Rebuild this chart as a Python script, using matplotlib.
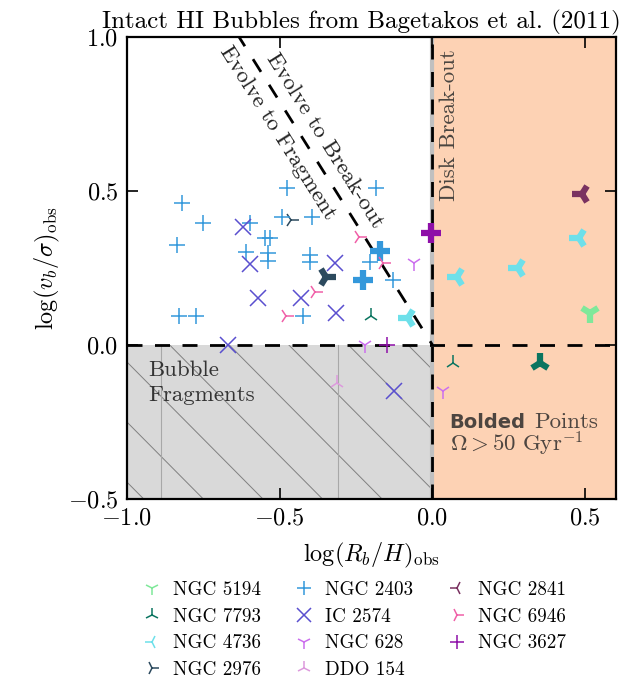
import numpy as np
import matplotlib.pyplot as plt
from matplotlib.lines import Line2D
from matplotlib.patches import Rectangle

plt.rcParams['font.family'] = 'serif'
plt.rcParams['font.serif'] = ['cmr10']
plt.rcParams['mathtext.fontset'] = 'cm'
plt.rcParams['axes.formatter.use_mathtext'] = True

# galaxies in legend order
galaxies = ['NGC 5194', 'NGC 7793', 'NGC 4736', 'NGC 2976', 'NGC 2403', 'IC 2574',
            'NGC 628', 'DDO 154', 'NGC 2841', 'NGC 6946', 'NGC 3627']
markers = ['1', '2', '3', '4', '+', 'x', '1', '2', '3', '4', '+']
colors = ['#7fe89a', '#0b7560', '#6ee0ea', '#2c4a5e', '#3498db', '#5a4fcf',
          '#cc6fee', '#dd9add', '#7a3260', '#f060a8', '#8e0fa8']

# bubbles: galaxy, log(R_b/H), log(v_b/sigma), bold (Omega > 50 Gyr^-1)
point_galaxy = (['NGC 2403'] * 22 + ['IC 2574'] * 8 + ['NGC 6946'] * 4 + ['NGC 2976'] * 2
                + ['NGC 7793'] * 3 + ['NGC 4736'] * 4 + ['NGC 628'] * 3 + ['NGC 3627'] * 2
                + ['DDO 154', 'NGC 2841', 'NGC 5194'])
point_x = [-0.821, -0.751, -0.836, -0.829, -0.775, -0.598, -0.549, -0.533, -0.611, -0.538, -0.538,
           -0.475, -0.493, -0.393, -0.184, -0.402, -0.402, -0.206, -0.130, -0.424, -0.173, -0.228,
           -0.620, -0.598, -0.571, -0.669, -0.320, -0.429, -0.315, -0.126,
           -0.239, -0.162, -0.386, -0.478,
           -0.462, -0.347,
           -0.200, 0.066, 0.352,
           -0.081, 0.080, 0.281, 0.480,
           -0.059, -0.222, 0.034,
           -0.149, -0.004,
           -0.313, 0.489, 0.515]
point_y = [0.460, 0.395, 0.325, 0.095, 0.095, 0.395, 0.346, 0.346, 0.303, 0.298, 0.274,
           0.509, 0.417, 0.417, 0.509, 0.292, 0.270, 0.270, 0.211, 0.095, 0.306, 0.211,
           0.382, 0.263, 0.152, 0.000, 0.265, 0.152, 0.105, -0.149,
           0.352, 0.265, 0.173, 0.095,
           0.406, 0.220,
           0.095, -0.057, -0.060,
           0.087, 0.222, 0.249, 0.346,
           0.265, 0.000, -0.148,
           0.000, 0.362,
           -0.122, 0.490, 0.105]
point_bold = ([False] * 20 + [True, True] + [False] * 8 + [False] * 4 + [False, True]
              + [False, False, True] + [True] * 4 + [False] * 3 + [False, True]
              + [False, True, True])

fig = plt.figure(figsize=(6.22, 6.81), dpi=100)
ax = fig.add_axes([0.204, 0.2673, 0.786, 0.6784])
ax.set_xlim(-1.0, 0.6)
ax.set_ylim(-0.5, 1.0)

# regions
ax.add_patch(Rectangle((0, -0.5), 0.6, 1.5, facecolor='#fdd2b4', edgecolor='none', zorder=0))
frag = Rectangle((-1.0, -0.5), 1.0, 0.5, facecolor='#d9d9d9', edgecolor='none', zorder=0)
ax.add_patch(frag)
for c in np.arange(-1.64, 0.6, 0.195):
    ln, = ax.plot([c - 1, c + 1], [1, -1], color='#808080', lw=0.7, zorder=0.5)
    ln.set_clip_path(frag)
for xv in [-0.889, -0.31]:
    ax.plot([xv, xv], [-0.5, 0], color='#a8a8a8', lw=0.8, zorder=0.5)
ax.axvline(0, color='#c0c0c0', lw=3, zorder=0.6)

# boundaries
ax.axhline(0, color='k', lw=2, dashes=(5.4, 4.5), zorder=1)
ax.axvline(0, color='k', lw=2, dashes=(5.4, 4.5), zorder=1)
xd = np.array([-0.64, 0.0])
ax.plot(xd, -1.58 * xd, color='k', lw=2, dashes=(5.4, 5.5), zorder=1)

# points
gx = np.array(point_x)
gy = np.array(point_y)
gb = np.array(point_bold)
gg = np.array(point_galaxy)
for name, m, col in zip(galaxies, markers, colors):
    sel = (gg == name) & ~gb
    if sel.any():
        ax.plot(gx[sel], gy[sel], ls='none', marker=m, color=col, ms=11, mew=1.1, zorder=3)
    sel = (gg == name) & gb
    if sel.any():
        ax.plot(gx[sel], gy[sel], ls='none', marker=m, color=col, ms=15, mew=4.5, zorder=3)

# annotations
ax.text(-0.353, 0.665, 'Evolve to Break-out', rotation=-57.8, ha='center', va='center',
        fontsize=16.5, color='#222222', rotation_mode='anchor')
ax.text(-0.507, 0.69, 'Evolve to Fragment', rotation=-57.8, ha='center', va='center',
        fontsize=16.5, color='#222222', rotation_mode='anchor')
ax.text(0.056, 0.714, 'Disk Break-out', rotation=90, ha='center', va='center',
        fontsize=16.5, color='#4a4540')
ax.text(-0.93, -0.05, 'Bubble\nFragments', ha='left', va='top', fontsize=16.5,
        color='#333333', linespacing=1.35)
t1 = ax.text(0.056, -0.27, 'Bolded', ha='left', va='baseline', fontsize=14,
             family='DejaVu Sans', weight='bold', color='#4d4540')
ax.annotate('Points', xy=(1, 0), xycoords=t1, xytext=(6, 0), textcoords='offset points',
            va='bottom', ha='left', fontsize=16.5, color='#4d4540')
ax.text(0.056, -0.347, r'$\Omega > 50\ \mathrm{Gyr}^{-1}$', ha='left', va='baseline',
        fontsize=16.5, color='#4d4540')

ax.set_xticks([-1.0, -0.5, 0.0, 0.5])
ax.set_yticks([-0.5, 0.0, 0.5, 1.0])
ax.tick_params(direction='in', top=True, right=True, length=8, width=1.2, labelsize=17.5, pad=6)
for s in ax.spines.values():
    s.set_linewidth(1.6)
ax.set_xlabel(r'$\log(R_b/H)_{\rm obs}$', fontsize=17.5, labelpad=8)
ax.set_ylabel(r'$\log(v_b/\sigma)_{\rm obs}$', fontsize=17.5, labelpad=4)
ax.set_title('Intact HI Bubbles from Bagetakos et al. (2011)', fontsize=18, pad=6, x=0.479)

handles = [Line2D([], [], ls='none', marker=m, color=c, ms=10, mew=1.1)
           for m, c in zip(markers, colors)]
fig.legend(handles, galaxies, ncol=3, loc='upper left', bbox_to_anchor=(0.229, 0.147),
           frameon=False, fontsize=13.8, handlelength=1.0, handletextpad=0.6,
           columnspacing=1.75, labelspacing=0.46, borderpad=0, borderaxespad=0)

fig.savefig('out.png', dpi=100)
